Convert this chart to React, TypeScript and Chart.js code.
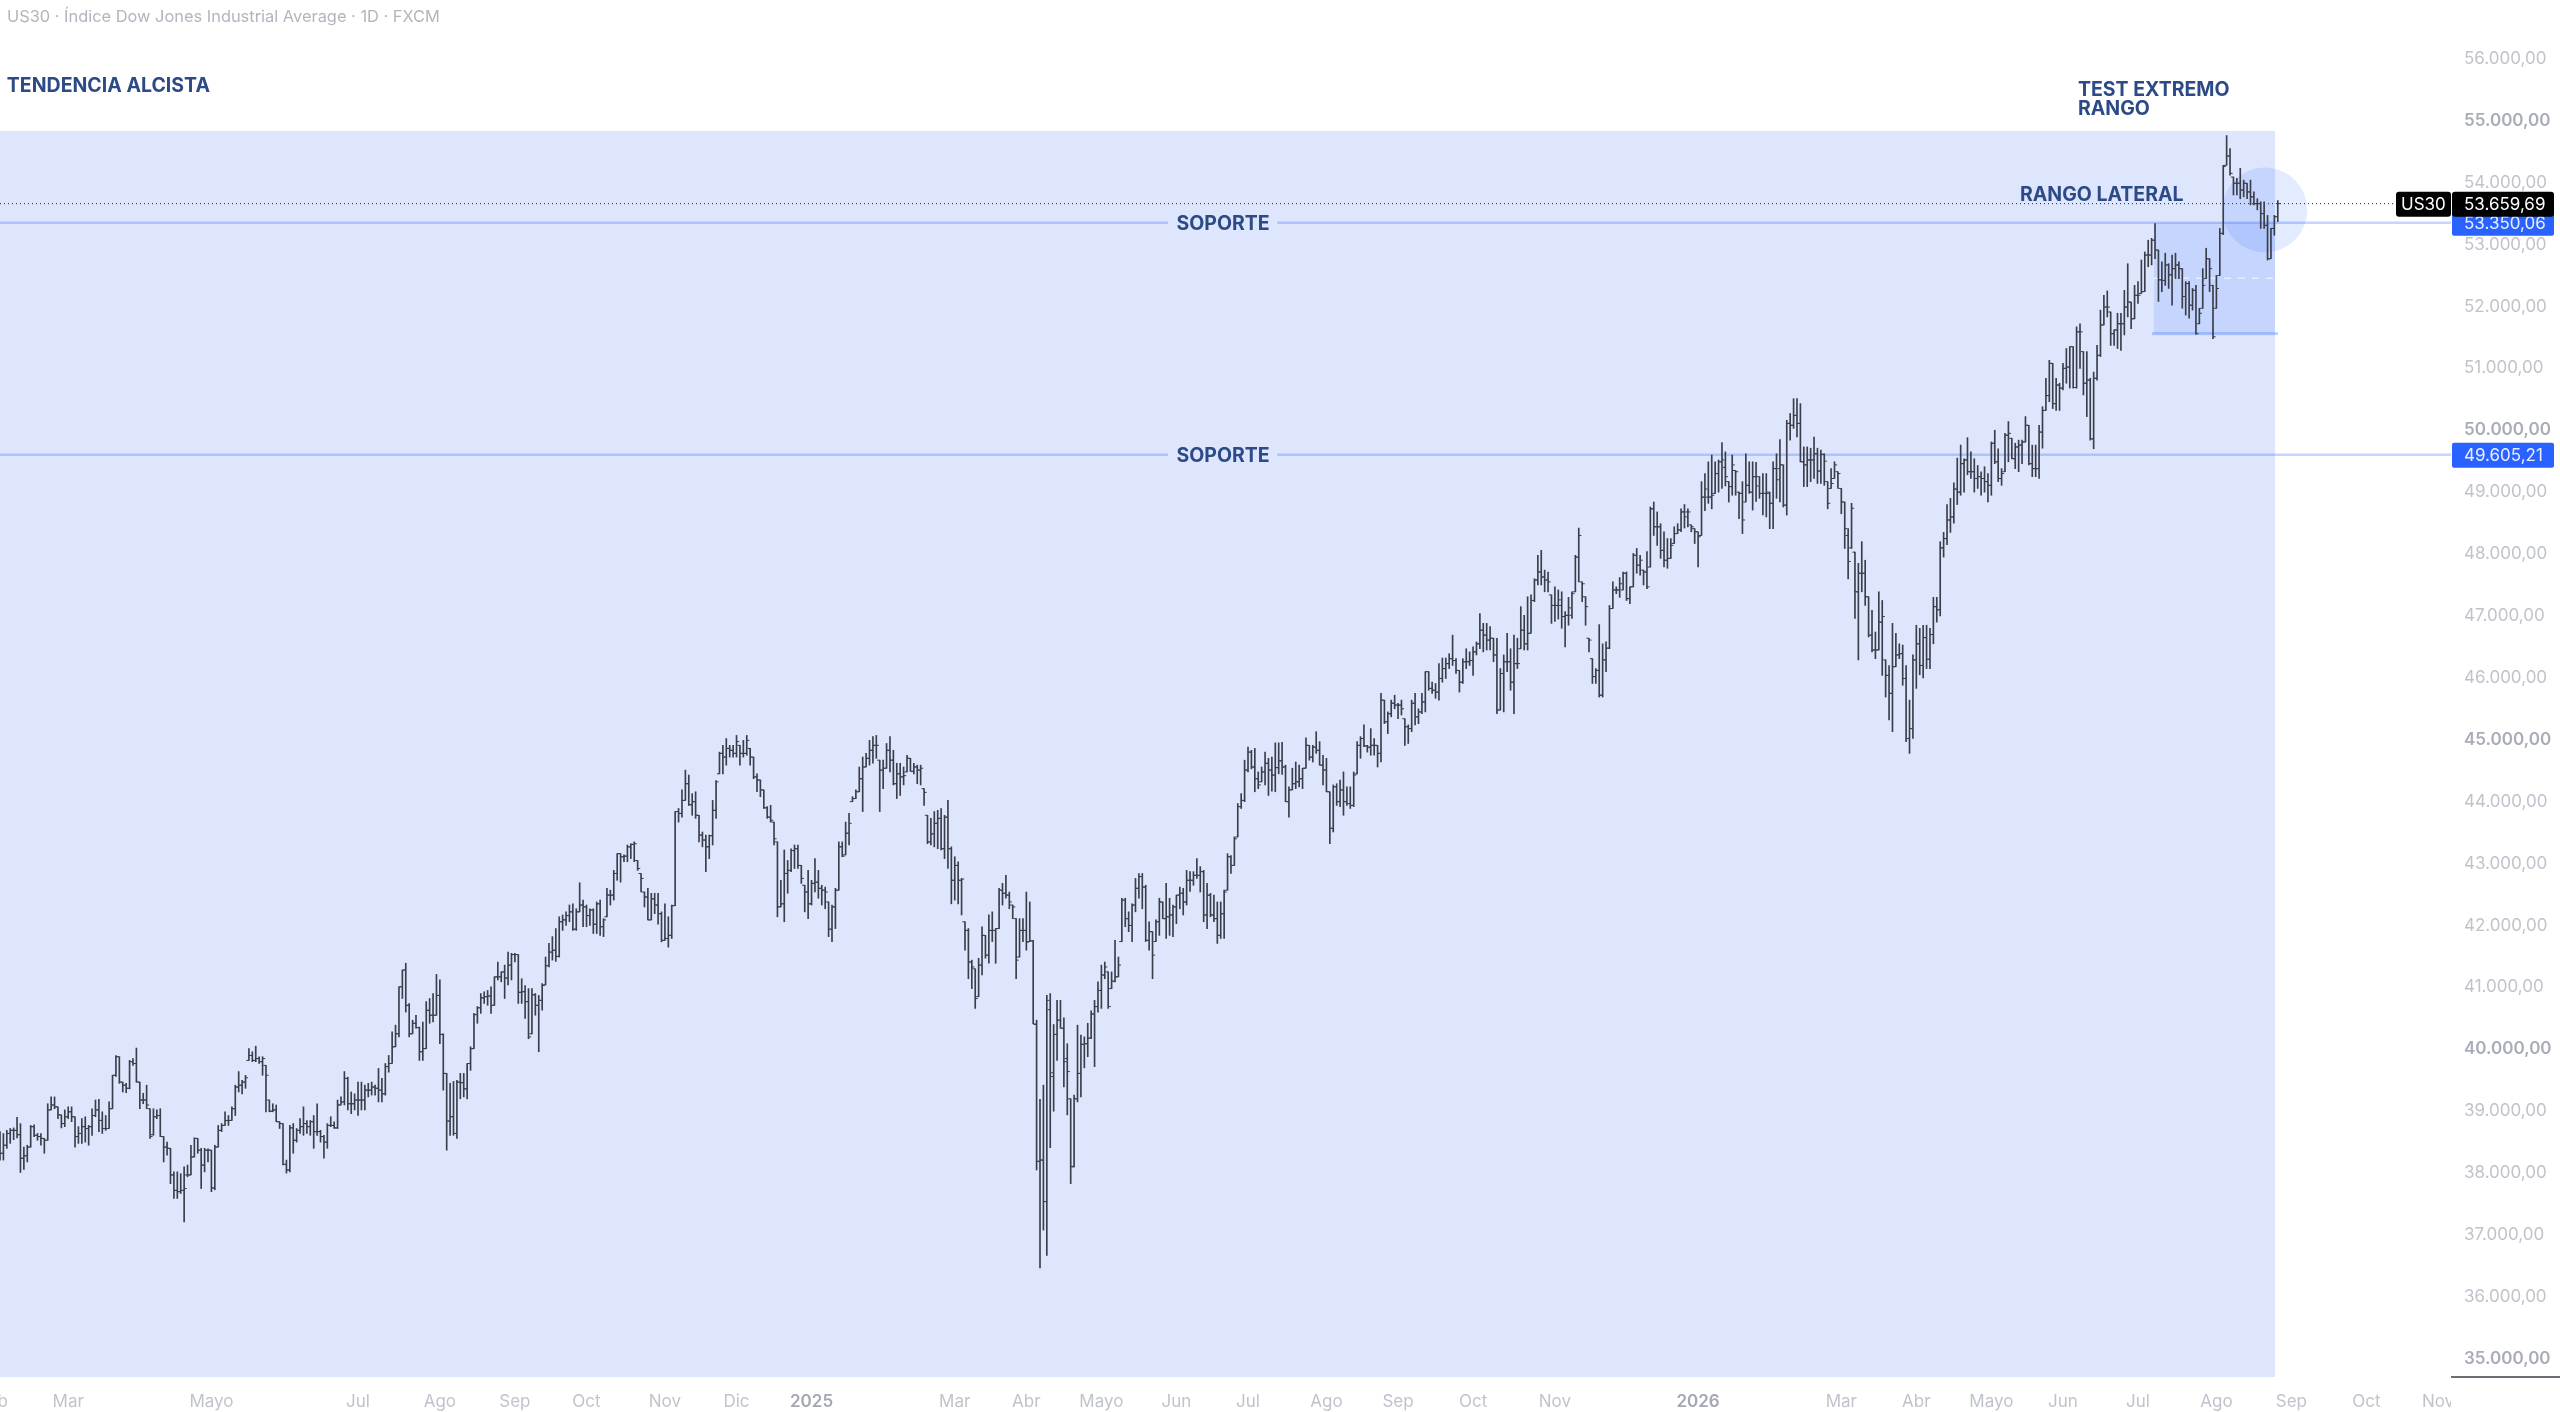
import { useEffect, useRef } from "react";
import { Chart, registerables } from "chart.js";

Chart.register(...registerables);

type Bar = [number, number, number, number]; // open, high, low, close

const bars2024Feb: Bar[] = [
  [38610,38670,38210,38320],[38320,38640,38210,38450],[38450,38690,38400,38640],[38640,38720,38480,38690],
  [38690,38730,38540,38690],[38690,38900,38570,38620],[38620,38800,38010,38240],[38240,38420,38060,38280],
  [38280,38450,38180,38420],[38420,38770,38420,38750],[38750,38780,38590,38610],[38610,38640,38530,38590],
  [38590,38640,38450,38560],[38560,38560,38320,38530],[38530,39120,38530,39020],[39020,39230,39020,39100],
  [39100,39230,39040,39070],[39070,39070,38880,38940],[38940,38940,38730,38800],[38800,39020,38750,38910],
];
const bars2024MarApr: Bar[] = [
  [38910,39070,38880,38990],[38990,39070,38830,38910],[38910,38910,38420,38590],[38590,38750,38480,38640],
  [38640,38880,38480,38750],[38750,38910,38500,38720],[38720,38770,38450,38750],[38750,39040,38610,38930],
  [38930,39180,38910,39020],[39020,39190,38670,38850],[38850,38990,38640,38720],[38720,38930,38690,38720],
  [38720,39150,38720,39040],[39040,39580,39040,39580],[39580,39900,39560,39880],[39880,39880,39450,39470],
  [39470,39470,39310,39420],[39420,39450,39300,39370],[39370,39820,39360,39800],[39800,39850,39740,39770],
  [39770,40020,39470,39470],[39470,39470,39040,39180],[39180,39290,39120,39180],[39180,39420,39040,39100],
  [39040,39040,38560,38590],[38620,39040,38610,38910],[38910,39020,38880,38930],[38930,39040,38590,38590],
  [38590,38590,38180,38420],[38420,38500,38290,38400],[38400,38400,37830,37970],[37970,38020,37590,37720],
  [37720,38020,37590,37700],[37700,37990,37670,37720],[37720,38100,37210,37750],[37970,38130,37940,37970],
  [37970,38450,37970,38260],[38260,38570,38260,38560],[38560,38560,38320,38370],[38370,38400,37750,38130],
  [38130,38400,38020,38370],[38370,38390,38180,38370],
];
const bars2024MayJun: Bar[] = [
  [38370,38370,37700,37760],[37760,38450,37730,38420],[38420,38770,38420,38690],[38690,38800,38670,38770],
  [38770,38990,38770,38850],[38850,38930,38770,38850],[38850,39070,38850,39040],[39040,39420,38930,39390],
  [39390,39640,39310,39420],[39420,39500,39280,39470],[39470,39580,39370,39540],[39820,40010,39820,39900],
  [39900,39960,39800,39820],[39820,40050,39800,39850],[39850,39880,39770,39800],[39800,39880,39580,39850],
  [39740,39740,38990,39580],[39180,39180,38990,39000],[39000,39120,38990,39020],[39020,39100,38830,38830],
  [38830,38830,38720,38800],[38800,38800,38130,38140],[38140,38210,38000,38050],[38050,38770,38020,38730],
  [38730,38800,38320,38530],[38530,38720,38500,38690],[38690,38880,38640,38750],[38750,39070,38610,38800],
  [38800,38850,38640,38750],[38750,38850,38610,38830],[38830,38930,38400,38670],[38670,39120,38610,38670],
  [38670,38690,38500,38590],[38590,38610,38240,38500],[38500,38800,38400,38770],[38770,38910,38750,38770],
  [38770,38830,38720,38730],[38730,39180,38720,39100],[39100,39230,39100,39150],[39150,39640,39100,39530],
  [39530,39550,39020,39120],[39120,39310,38960,39120],[39120,39280,39020,39180],
];
const bars2024Jul: Bar[] = [
  [39180,39470,38930,39180],[39180,39470,39020,39180],[39180,39420,39020,39340],[39340,39450,39230,39340],
  [39340,39470,39260,39390],[39390,39420,39260,39370],[39370,39690,39150,39340],[39340,39530,39150,39280],
  [39280,39770,39260,39720],[39720,39900,39630,39770],[39770,40280,39770,40040],[40040,40390,40040,40250],
  [40250,41010,40200,41010],[41010,41280,40820,41280],[41280,41390,40600,40710],[40710,40740,40200,40250],
  [40250,40470,40250,40420],[40420,40550,40340,40350],[40350,40360,39820,39960],[39960,40440,39820,40010],
  [40010,40770,40010,40630],[40630,40820,40420,40550],[40550,40900,40440,40550],[40550,41210,40550,40870],
];
const bars2024Ago: Bar[] = [
  [40870,41120,40090,40240],[40240,40250,39340,39610],[39610,39610,38370,38840],[38840,39450,38610,38910],
  [38910,39480,38610,38640],[38640,39500,38560,39470],[39470,39610,39200,39460],[39460,39610,39230,39360],
  [39360,39770,39200,39770],[39770,40040,39660,40010],[40010,40580,40010,40560],[40560,40690,40420,40670],
  [40670,40900,40580,40830],[40830,40930,40740,40850],[40850,40950,40710,40860],[40860,41010,40580,40710],
  [40710,41170,40710,41170],[41170,41410,41120,41170],[41170,41250,41090,41250],[41250,41360,40820,41150],
  [41150,41570,41040,41360],[41360,41550,41120,41530],
];
const bars2024Sep: Bar[] = [
  [41530,41550,41410,41530],[41530,41530,40740,40920],[40920,41140,40740,40930],[40930,41030,40500,40770],
  [40770,40980,40170,40200],[40250,40980,40250,40880],[40880,40900,40550,40710],[40710,40870,39960,40790],
  [40790,41060,40630,41030],[41040,41490,41040,41350],[41350,41710,41330,41570],[41570,41820,41440,41600],
  [41600,41950,41420,41500],[41500,42140,41490,42060],[42060,42170,41920,42090],[42090,42220,42000,42160],
  [42160,42330,42060,42220],[42220,42350,41920,41940],[41940,42270,41920,42220],[42220,42690,42220,42330],
  [42330,42410,41980,42300],
];
const bars2024Oct: Bar[] = [
  [42300,42330,41980,42160],[42160,42270,42000,42250],[42250,42270,41870,42020],[42020,42380,41870,42350],
  [42350,42410,41840,41980],[41980,42110,41820,42090],[42140,42600,42140,42490],[42490,42570,42330,42490],
  [42490,42890,42410,42840],[42840,43160,42730,43160],[43160,43160,42700,43110],[43110,43140,43030,43120],
  [43120,43300,43030,43270],[43270,43320,43080,43310],[43310,43350,43030,43320],[43050,43050,42890,42920],
  [42840,42840,42540,42760],[42540,42540,42300,42460],[42460,42600,42090,42090],[42090,42520,42090,42430],
  [42430,42520,42190,42330],[42330,42520,42020,42190],[42190,42220,41735,41760],
];
const bars2024Nov: Bar[] = [
  [41760,42350,41760,41790],[41790,42140,41650,41840],[41840,42330,41790,42320],[42320,43840,42320,43840],
  [43840,43890,43670,43810],[43810,44190,43750,44020],[44020,44510,44020,44290],[44290,44430,43940,43950],
  [43950,44130,43780,44000],[44000,44160,43730,43780],[43780,43780,43350,43460],[43460,43510,43270,43380],
  [43380,43460,42870,43270],[43270,43460,43080,43450],[43450,44020,43300,43860],[43860,44340,43730,44320],
  [44450,44800,44450,44780],[44780,44910,44450,44720],[44720,45020,44590,44860],[44860,44910,44720,44830],
  [44830,44910,44720,44780],
];
const bars2024Dic: Bar[] = [
  [44780,45070,44720,44970],[44910,44910,44590,44780],[44780,44990,44720,44780],[44780,45070,44750,44990],
  [44860,44860,44590,44720],[44720,44720,44370,44400],[44400,44450,44160,44350],[44350,44350,44080,44190],
  [44190,44190,43890,43900],[43900,43920,43730,43750],[43750,43940,43670,43700],[43670,43670,43300,43400],
  [43350,43350,42140,42300],[42300,42730,42300,42350],[42350,43220,42060,42840],[42840,43050,42520,42890],
  [42890,43240,42870,43210],[43210,43300,42920,43240],[43240,43300,42920,42970],[42970,42970,42680,42760],
  [42650,42650,42220,42540],[42540,42890,42110,42350],
];
const bars2025EneFeb: Bar[] = [
  [42350,42730,42330,42680],[42680,43080,42540,42700],[42700,42890,42440,42600],[42600,42650,42330,42570],
  [42570,42620,42270,42540],[42380,42380,41820,41940],[41940,42330,41740,42300],[42300,42600,41950,42570],
  [42570,43350,42570,43270],[43270,43350,43110,43120],[43140,43670,43140,43490],[43490,43810,43300,43650],
  [44000,44080,44000,44050],[44050,44190,44050,44160],[44160,44560,44160,44370],[44370,44720,43840,44560],
  [44560,44780,44560,44700],[44700,44990,44590,44830],[44830,45050,44620,44910],[44910,45070,44700,44910],
  [44670,44670,43840,44510],[44510,44670,44210,44540],[44540,44940,44540,44830],[44830,45050,44480,44670],
  [44670,44830,44270,44290],[44290,44620,44050,44450],[44450,44620,44100,44400],[44400,44560,44270,44420],
  [44480,44750,44480,44700],[44700,44700,44490,44490],[44490,44620,44450,44560],[44560,44590,44290,44510],
  [44510,44590,44270,44540],[44210,44210,43940,44150],[43780,43780,43320,43350],[43350,43730,43300,43480],
  [43480,43840,43270,43650],[43650,43860,43240,43730],[43730,43890,43220,43240],[43240,43780,43080,43750],
  [43750,44020,42920,43240],[43240,43270,42350,42730],
];
const bars2025Mar: Bar[] = [
  [42730,43110,42410,42970],[42970,43030,42350,42730],[42730,42760,42170,42750],[42060,42060,41600,41920],
  [41920,41950,41140,41410],[41410,41440,40980,41330],[41300,41300,40660,40820],[40850,41470,40850,41360],
  [41360,41980,41200,41840],[41840,41840,41470,41520],[41520,42170,41390,41920],[41920,42220,41740,41920],
  [41920,41950,41390,41950],[41950,42600,41950,42570],[42570,42680,42330,42520],[42520,42810,42440,42490],
  [42490,42540,42270,42380],[42330,42330,42110,42300],[42110,42110,41140,41440],[41490,42110,41490,41920],
  [41920,42110,41740,41920],
];
const bars2025Abr: Bar[] = [
  [41920,42540,41600,41730],[41740,42380,41740,41750],[41750,41760,40410,40410],[40400,40470,38050,38190],
  [38190,39190,36470,38210],[38210,39420,37080,37540],[37540,40870,36670,40790],[40640,40900,38410,39560],
  [39620,40400,39000,40240],[40240,40790,39820,40470],[40470,40790,40340,40340],[40340,40510,39390,39800],
  [39850,40090,38940,39640],[39200,39200,37830,38110],[38100,39260,38100,39200],[39200,40390,39150,39610],
  [39610,40230,39230,40080],[40080,40200,39700,40090],[40090,40420,39880,40180],[40180,40620,40170,40570],
  [40570,40790,39720,40690],[40690,41090,40600,40950],
];
const bars2025May: Bar[] = [
  [40950,41360,40660,41200],[41200,41410,41140,41330],[41250,41250,40660,40690],[40980,41250,40980,41100],
  [41100,41760,41090,41170],[41170,41490,41170,41360],[41740,42440,41740,42410],[42410,42440,41980,42110],
  [42110,42220,41900,42000],[42000,42350,41740,42330],[42330,42760,42220,42600],[42600,42840,42440,42790],
  [42790,42840,42270,42620],[42620,42650,41740,41760],[41760,42060,41600,41900],[41900,41900,41140,41520],
  [41740,42090,41740,42060],[42060,42440,41840,42380],[42380,42380,42110,42110],[42110,42680,41790,42140],
  [42140,42440,41840,42170],[42170,42330,41820,42300],
];
const bars2025Jun: Bar[] = [
  [42300,42490,42030,42490],[42490,42620,42270,42520],[42520,42600,42170,42380],[42380,42890,42330,42730],
  [42730,42870,42550,42730],[42730,42870,42650,42810],[42810,43080,42760,42810],[42810,42950,42540,42870],
  [42870,42890,42060,42170],[42170,42680,41950,42490],[42490,42520,42140,42170],[42170,42490,42060,42110],
  [42110,42380,41710,41840],[41840,42380,41790,42190],[42190,42570,41790,42540],[42570,43160,42570,43110],
  [43110,43130,42840,42970],[42970,43430,42970,43400],[43430,43970,43430,43920],[43920,44130,43890,44020],
  [44020,44670,44000,44510],
];
const bars2025Jul: Bar[] = [
  [44510,44880,44480,44800],[44800,44830,44530,44560],[44560,44860,44160,44370],[44370,44480,44210,44270],
  [44320,44560,44320,44480],[44480,44800,44270,44620],[44620,44700,44100,44510],[44510,44720,44170,44430],
  [44430,44950,44160,44550],[44550,44950,44450,44660],[44660,44960,44440,44560],[44560,44590,44000,44000],
  [44000,44240,43750,44190],[44190,44540,44190,44290],[44290,44640,44210,44320],[44320,44590,44240,44370],
  [44370,44540,44210,44540],[44540,45030,44540,44910],[44910,44910,44670,44720],[44720,44910,44640,44880],
  [44880,45130,44780,44830],[44830,44970,44590,44590],[44590,44750,44270,44510],
];
const bars2025Ago: Bar[] = [
  [44510,44700,44160,44160],[44160,44160,43320,43570],[43570,44270,43510,44240],[44240,44290,43940,44000],
  [44000,44350,43920,44190],[44190,44480,43780,44000],[44000,44240,43940,43970],[43970,44240,43890,43940],
  [43940,44480,43920,44430],[44450,44970,44450,44910],[44910,45050,44700,45020],[45020,45240,44890,44900],
  [44900,44910,44800,44880],[44880,45180,44750,44910],[44910,45020,44750,44910],[44910,44910,44560,44780],
  [44780,45750,44640,45640],[45640,45640,45260,45290],[45290,45450,45100,45420],[45420,45640,45370,45590],
  [45590,45720,45500,45560],
];
const bars2025Sep: Bar[] = [
  [45560,45590,45340,45560],[45560,45640,45400,45500],[45340,45340,44910,45210],[45210,45240,44940,45180],
  [45180,45640,45130,45590],[45590,45750,45240,45370],[45370,45500,45260,45450],[45450,45750,45420,45610],
  [45610,46100,45450,46100],[46100,46100,45800,45830],[45830,45930,45750,45800],[45800,45910,45670,45770],
  [45770,46230,45640,45990],[45990,46320,45930,46150],[46150,46320,45990,46230],[46230,46390,46150,46310],
  [46310,46690,46200,46280],[46280,46310,46070,46120],[46120,46120,45770,45930],[45930,46310,45910,46260],
  [46260,46470,46150,46260],[46260,46420,46200,46280],
];
const bars2025Oct: Bar[] = [
  [46280,46500,46040,46420],[46420,46580,46370,46550],[46550,47040,46470,46770],[46770,46880,46420,46690],
  [46690,46880,46450,46610],[46610,46830,46450,46640],[46640,46640,46260,46370],[46370,46640,45420,45480],
  [45480,46150,45480,46070],[46070,46370,45450,46260],[46260,46720,46100,46260],[46260,46470,45800,45930],
  [45930,46690,45420,46230],[46230,46640,46150,46230],[46470,47150,46470,46770],[46770,47010,46450,46550],
  [46550,47310,46450,46720],[46720,47340,46720,47250],[47250,47600,47230,47580],[47580,47980,47500,47710],
  [47710,48060,47500,47630],[47630,47740,47390,47580],[47580,47710,47390,47550],[47340,47340,46880,47170],
];
const bars2025NovDic: Bar[] = [
  [47170,47470,46910,47170],[47170,47420,46950,47260],[47170,47390,46800,46990],[46990,47070,46500,47010],
  [47010,47300,46850,47130],[47010,47390,46960,47360],[47390,47980,47390,47950],[47950,48420,47550,48300],
  [47550,47550,47230,47520],[47310,47310,46850,47150],[46640,46640,46420,46610],[46310,46310,45910,46020],
  [46020,46150,45910,46120],[46120,46860,45690,45720],[45720,46550,45690,46290],[46290,46580,46100,46480],
  [46480,47170,46470,47120],[47120,47550,47120,47420],[47420,47470,47360,47420],[47420,47620,47300,47520],
  [47420,47710,47420,47690],[47690,47710,47250,47280],[47280,47470,47200,47470],[47470,48010,47470,47980],
  [47980,48090,47690,47820],[47820,47980,47660,47900],[47740,47740,47500,47710],[47710,48040,47440,47470],
  [47790,48760,47790,48730],[48730,48840,48300,48440],[48440,48680,48140,48440],[48440,48490,47930,48060],
  [48060,48360,47790,47900],[47900,48250,47770,47930],[47930,48250,47930,48140],[48170,48440,48170,48330],
  [48330,48490,48330,48390],[48390,48730,48360,48680],[48680,48800,48420,48600],[48680,48730,48440,48680],
  [48470,48470,48360,48440],[48410,48410,48170,48360],[48360,48360,47790,48280],[48300,49170,48300,48920],
  [48920,49300,48700,49050],[48920,49490,48820,48920],[48920,49600,48730,48950],
];
const bars2026EneFeb: Bar[] = [
  [48980,49490,48980,49300],[49300,49520,49000,49490],[49490,49800,49060,49520],[49400,49650,49100,49250],
  [49170,49170,48840,49090],[49090,49600,48950,49440],[49350,49350,48950,49330],[49000,49000,48570,48980],
  [48980,49170,48330,48550],[48840,49620,48840,49110],[49110,49490,48980,49000],[49000,49490,48710,49250],
  [49250,49480,48850,49100],[49250,49250,48900,48980],[48980,49300,48630,48980],[48980,49300,48600,48980],
  [49000,49000,48410,48820],[48820,49490,48410,49380],[49380,49620,48900,49200],[49380,49850,48840,49440],
  [49440,49440,48760,48790],[48790,50160,48630,50110],[50110,50270,49840,50080],[50080,50510,50030,50240],
  [50240,50510,49890,50110],[50110,50430,49490,49490],[49490,49730,49090,49440],[49440,49730,49090,49520],
  [49520,49710,49170,49520],[49520,49890,49220,49620],[49620,49710,49140,49340],[49340,49680,49140,49610],
  [49610,49620,49110,49500],[49170,49170,48730,48820],[49060,49380,49060,49140],[49220,49490,49220,49440],
  [49330,49330,49060,49300],[49060,49060,48650,48840],[48840,48840,48090,48410],[48300,48410,47600,47880],
  [48100,48820,48090,48740],[48030,48030,46960,47390],[47390,47850,46290,47690],[47690,48200,47390,47690],
  [47690,47900,47170,47310],
];
const bars2026Mar: Bar[] = [
  [47310,47310,46660,46690],[46690,47090,46420,46450],[46450,46740,46310,46450],[46450,47390,46450,46900],
  [46900,47250,46040,46990],[46290,46290,45690,46040],[46040,46200,45320,45750],[45750,46880,45130,46180],
  [46180,46720,46180,46370],[46370,46550,46310,46390],[46390,46530,45880,45990],[45990,46200,44970,45020],
  [45020,45640,44780,45180],[45180,46370,45020,46290],[46290,46850,45830,46550],[46550,46800,46050,46200],
  [46200,46850,46000,46650],[46650,46850,46150,46300],[46300,46800,46150,46700],[46700,47300,46550,47150],
  [47150,47300,46900,47100],[47100,48200,47000,48100],
];
const bars2026Abr: Bar[] = [
  [48100,48350,47950,48250],[48250,48800,48150,48550],[48550,48900,48350,48600],[48600,49150,48500,49050],
  [49050,49550,48800,49000],[49000,49760,48950,49460],[49460,49540,49000,49520],[49520,49880,49280,49330],
  [49330,49650,49220,49330],[49330,49540,49000,49220],[49220,49430,49060,49250],[49250,49330,48950,49220],
  [49220,49410,49000,49170],[49170,49300,48840,49110],[49110,49810,48950,49790],[49790,50000,49460,49490],
  [49490,49700,49170,49220],[49220,49380,49110,49300],[49330,49950,49330,49920],[49920,50140,49490,49950],
  [49870,49870,49540,49540],[49540,49790,49380,49730],
];
const bars2026May: Bar[] = [
  [49730,49840,49330,49760],[49760,49840,49460,49810],[49810,50220,49810,50080],[50080,50080,49440,49460],
  [49460,49760,49250,49380],[49380,49760,49250,49380],[49380,50080,49220,49970],[49970,50380,49710,50320],
  [50320,50840,50320,50560],[50560,51130,50460,51080],[51080,51080,50350,50430],[50430,50840,50320,50730],
  [50730,50760,50320,50680],[50680,51080,50650,51000],[51000,51320,50760,51020],[51020,51350,50680,51350],
  [51350,51350,50680,50690],[50690,51670,50680,51590],[51590,51720,51000,51590],[51270,51270,50570,50760],
  [50760,51270,50220,50810],
];
const bars2026Jun: Bar[] = [
  [50810,50840,49840,49860],[49860,50940,49700,50840],[50840,51370,50810,51210],[51210,51940,51190,51700],
  [51700,52180,51700,51990],[51990,52250,51830,51990],[51910,51910,51370,51560],[51560,51620,51370,51620],
  [51620,51890,51320,51720],[51720,51890,51290,51720],[51720,52260,51540,51990],[51990,52690,51830,52070],
  [52070,52070,51640,51800],[51800,52340,51800,52180],[52180,52400,52050,52180],[52210,52750,52210,52240],
  [52240,52880,52240,52830],[52830,53070,52640,52830],[52830,53100,52670,53070],[53070,53340,52770,52910],
  [52910,52910,52080,52430],[52430,52720,52240,52420],
];
const bars2026Jul: Bar[] = [
  [52420,52860,52340,52670],[52670,52690,52290,52510],[52510,52830,52020,52610],[52610,52860,52450,52670],
  [52670,52720,52450,52610],[52610,52610,51970,52160],[52160,52400,51860,52370],[52370,52400,51810,52020],
  [52020,52290,51940,52260],[52260,52340,51550,51560],[51720,51970,51720,51890],[51970,52610,51970,52340],
  [52450,52940,52450,52770],[52770,52770,52240,52610],[52340,52340,51480,51510],[51970,52500,51970,52290],
];
const bars2026Ago: Bar[] = [
  [52500,53260,52500,53180],[53180,54280,53160,54260],[54280,54760,54280,54430],[54430,54550,54120,54150],
  [54090,54090,53800,53990],[53990,54070,53800,53990],[53990,54230,53740,53880],[53880,54040,53770,53990],
  [53990,53990,53740,53850],[53850,54040,53640,53770],[53770,53850,53640,53660],[53660,53740,53560,53660],
  [53660,53690,53260,53500],[53500,53690,53260,53310],[53310,53470,52750,52770],[52770,53260,52770,53260],
  [53260,53470,53150,53450],[53450,53710,53370,53660],
];

const bars: Bar[] = [
  ...bars2024Feb, ...bars2024MarApr, ...bars2024MayJun, ...bars2024Jul, ...bars2024Ago, ...bars2024Sep,
  ...bars2024Oct, ...bars2024Nov, ...bars2024Dic, ...bars2025EneFeb, ...bars2025Mar, ...bars2025Abr,
  ...bars2025May, ...bars2025Jun, ...bars2025Jul, ...bars2025Ago, ...bars2025Sep, ...bars2025Oct,
  ...bars2025NovDic, ...bars2026EneFeb, ...bars2026Mar, ...bars2026Abr, ...bars2026May, ...bars2026Jun,
  ...bars2026Jul, ...bars2026Ago,
];

const priceTicks = [35000,36000,37000,38000,39000,40000,41000,42000,43000,44000,45000,46000,47000,48000,49000,50000,51000,52000,53000,54000,55000,56000];
const timeTickIndex = [-2,20,62,105,129,151,172,195,216,238,280,301,323,345,366,389,410,432,456,498,540,562,584,605,627,650,672,694,715];
const timeTickLabels = ["Feb","Mar","Mayo","Jul","Ago","Sep","Oct","Nov","Dic","2025","Mar","Abr","Mayo","Jun","Jul","Ago","Sep","Oct","Nov","2026","Mar","Abr","Mayo","Jun","Jul","Ago","Sep","Oct","Nov"];

const lastPrice = 53659.69;
const supportHigh = 53350.06;
const supportLow = 49605.21;
const rangeLow = 51560;
const rangeMid = 52455;
const rangeStart = 631.7;
const trendTop = 54834;
const trendEnd = 667.2;
const circleCenter = { i: 664.2, price: 53558 };

const annotations = [
  { text: "TENDENCIA ALCISTA", i: 2, price: 55564 },
  { text: "TEST EXTREMO", i: 609.4, price: 55499 },
  { text: "RANGO", i: 609.4, price: 55192 },
  { text: "RANGO LATERAL", i: 592.4, price: 53803 },
];
const supportLabelIndex = 358.7;

const money = new Intl.NumberFormat("de-DE", { minimumFractionDigits: 2, maximumFractionDigits: 2, useGrouping: true });
const FONT = "Inter, 'Noto Sans', sans-serif";
const NAVY = "#2b4a86";
const LINE_BLUE = "rgba(41, 98, 255, 0.27)";
const BAR_COLOR = "#3a3e4a";

const overlayPlugin = {
  id: "overlay",
  beforeDatasetsDraw(chart: any) {
    const { ctx, scales } = chart;
    const x = scales.x;
    const y = scales.y;
    const plotBottom = chart.chartArea.bottom;
    ctx.save();

    // trend background
    ctx.fillStyle = "#dde6fd";
    ctx.fillRect(0, y.getPixelForValue(trendTop), x.getPixelForValue(trendEnd), plotBottom - y.getPixelForValue(trendTop));

    // rango lateral box
    const rx = x.getPixelForValue(rangeStart);
    const rTop = y.getPixelForValue(supportHigh);
    const rBottom = y.getPixelForValue(rangeLow);
    ctx.fillStyle = "rgba(41, 98, 255, 0.13)";
    ctx.fillRect(rx, rTop, x.getPixelForValue(trendEnd) - rx, rBottom - rTop);
    ctx.fillStyle = "rgba(41, 98, 255, 0.3)";
    ctx.fillRect(rx - 2, rBottom - 1.5, x.getPixelForValue(trendEnd) - rx + 5, 3);
    ctx.strokeStyle = "rgba(255, 255, 255, 0.6)";
    ctx.lineWidth = 1.5;
    ctx.setLineDash([7, 7]);
    ctx.beginPath();
    ctx.moveTo(rx, y.getPixelForValue(rangeMid));
    ctx.lineTo(x.getPixelForValue(trendEnd), y.getPixelForValue(rangeMid));
    ctx.stroke();
    ctx.setLineDash([]);

    // circle
    ctx.fillStyle = "rgba(41, 98, 255, 0.13)";
    ctx.beginPath();
    ctx.arc(x.getPixelForValue(circleCenter.i), y.getPixelForValue(circleCenter.price), 42.5, 0, Math.PI * 2);
    ctx.fill();

    // support lines
    const labelX = x.getPixelForValue(supportLabelIndex);
    ctx.strokeStyle = LINE_BLUE;
    ctx.lineWidth = 2.5;
    for (const level of [supportHigh, supportLow]) {
      const py = y.getPixelForValue(level);
      ctx.beginPath();
      ctx.moveTo(0, py);
      ctx.lineTo(labelX - 55, py);
      ctx.moveTo(labelX + 54, py);
      ctx.lineTo(x.right, py);
      ctx.stroke();
    }

    // last price dotted line
    ctx.strokeStyle = "#202430";
    ctx.lineWidth = 1;
    ctx.setLineDash([1, 3]);
    ctx.beginPath();
    ctx.moveTo(0, y.getPixelForValue(lastPrice));
    ctx.lineTo(x.right - 55, y.getPixelForValue(lastPrice));
    ctx.stroke();
    ctx.restore();
  },
  afterDatasetsDraw(chart: any) {
    const { ctx, scales } = chart;
    const x = scales.x;
    const y = scales.y;
    ctx.save();

    // open / close ticks of the OHLC bars
    ctx.strokeStyle = BAR_COLOR;
    ctx.lineWidth = 1;
    ctx.beginPath();
    bars.forEach((b, i) => {
      const px = x.getPixelForValue(i);
      const po = y.getPixelForValue(b[0]);
      const pc = y.getPixelForValue(b[3]);
      ctx.moveTo(px - 2.6, po);
      ctx.lineTo(px, po);
      ctx.moveTo(px, pc);
      ctx.lineTo(px + 2.6, pc);
    });
    ctx.stroke();

    // texts
    ctx.fillStyle = NAVY;
    ctx.font = `700 19.5px ${FONT}`;
    ctx.textBaseline = "middle";
    ctx.textAlign = "left";
    annotations.forEach((a) => ctx.fillText(a.text, x.getPixelForValue(a.i), y.getPixelForValue(a.price)));
    ctx.textAlign = "center";
    for (const level of [supportHigh, supportLow]) {
      ctx.fillText("SOPORTE", x.getPixelForValue(supportLabelIndex), y.getPixelForValue(level) + 1);
    }
    ctx.restore();
  },
  afterDraw(chart: any) {
    const { ctx, scales, width, height } = chart;
    const x = scales.x;
    const y = scales.y;
    ctx.save();

    // time labels stop at the price pane
    ctx.fillStyle = "#ffffff";
    ctx.fillRect(x.right, x.top, width - x.right, height - x.top);
    ctx.strokeStyle = "#3a3e4a";
    ctx.lineWidth = 1.5;
    ctx.beginPath();
    ctx.moveTo(x.right, x.top);
    ctx.lineTo(width, x.top);
    ctx.stroke();

    // title
    ctx.textBaseline = "middle";
    ctx.textAlign = "left";
    ctx.fillStyle = "#b2b5be";
    ctx.font = `400 16.4px ${FONT}`;
    ctx.fillText("US30 · Índice Dow Jones Industrial Average · 1D · FXCM", 7, 17);

    // price tags
    const tagLeft = x.right + 1;
    const tagW = 102;
    ctx.font = `400 17px ${FONT}`;
    for (const level of [supportLow, supportHigh]) {
      const py = y.getPixelForValue(level);
      ctx.fillStyle = "#2962ff";
      ctx.beginPath();
      ctx.roundRect(tagLeft, py - 12, tagW, 25, 2);
      ctx.fill();
      ctx.fillStyle = "#e8eeff";
      ctx.fillText(money.format(level), tagLeft + 12, py + 1);
    }
    const lastY = y.getPixelForValue(lastPrice);
    ctx.fillStyle = "#000000";
    ctx.beginPath();
    ctx.roundRect(tagLeft, lastY - 12, tagW, 25, 3);
    ctx.fill();
    ctx.beginPath();
    ctx.roundRect(tagLeft - 56, lastY - 12, 55, 25, 3);
    ctx.fill();
    ctx.fillStyle = "#ffffff";
    ctx.fillText(money.format(lastPrice), tagLeft + 12, lastY + 1);
    ctx.fillText("US30", tagLeft - 51, lastY + 1);
    ctx.restore();
  },
};

const isRound = (c: any) => (c.tick ? c.tick.value % 5000 === 0 : false);
const isYear = (c: any) => /^20/.test(timeTickLabels[c.index] || "");

export default function App() {
  const canvasRef = useRef<HTMLCanvasElement>(null);

  useEffect(() => {
    if (!canvasRef.current) return;

    const chart = new Chart(canvasRef.current, {
      type: "bar",
      data: {
        datasets: [
          {
            label: "US30",
            data: bars.map((b, i) => ({ x: i, y: [b[2], b[1]] })) as any,
            backgroundColor: BAR_COLOR,
            barThickness: 1,
            borderWidth: 0,
          },
        ],
      },
      options: {
        responsive: false,
        animation: false,
        devicePixelRatio: 1,
        layout: { padding: 0 },
        plugins: { legend: { display: false }, tooltip: { enabled: false } },
        scales: {
          x: {
            type: "linear",
            position: "bottom",
            offset: false,
            min: 0,
            max: 718.8,
            grid: { display: false },
            border: { display: false },
            afterFit: (s: any) => {
              s.height = 35;
              s.paddingLeft = 0;
              s.paddingRight = 0;
            },
            afterBuildTicks: (s: any) => {
              s.ticks = timeTickIndex.map((v) => ({ value: v }));
            },
            ticks: {
              autoSkip: false,
              maxRotation: 0,
              padding: 7,
              callback: (_v: any, idx: number) => timeTickLabels[idx],
              color: (c: any) => (isYear(c) ? "#a4a8b3" : "#c0c3cb"),
              font: (c: any) => ({ family: FONT, size: 17, weight: isYear(c) ? 600 : 400 }),
            },
          },
          y: {
            type: "linear",
            position: "right",
            min: 34706,
            max: 56950,
            grid: { display: false },
            border: { display: false },
            afterFit: (s: any) => {
              s.width = 109;
              s.paddingTop = 0;
              s.paddingBottom = 0;
            },
            afterBuildTicks: (s: any) => {
              s.ticks = priceTicks.map((v) => ({ value: v }));
            },
            ticks: {
              autoSkip: false,
              padding: 5,
              callback: (v: any) => money.format(Number(v)),
              color: (c: any) => (isRound(c) ? "#a9adb8" : "#c0c3cb"),
              font: (c: any) => ({ family: FONT, size: 17, weight: isRound(c) ? 600 : 400 }),
            },
          },
        },
      },
      plugins: [overlayPlugin],
    });

    return () => {
      chart.destroy();
    };
  }, []);

  return (
    <div style={{ position: "fixed", top: 0, left: 0, width: 2560, height: 1412, background: "#fff" }}>
      <canvas ref={canvasRef} width={2560} height={1412} style={{ display: "block" }} />
    </div>
  );
}
